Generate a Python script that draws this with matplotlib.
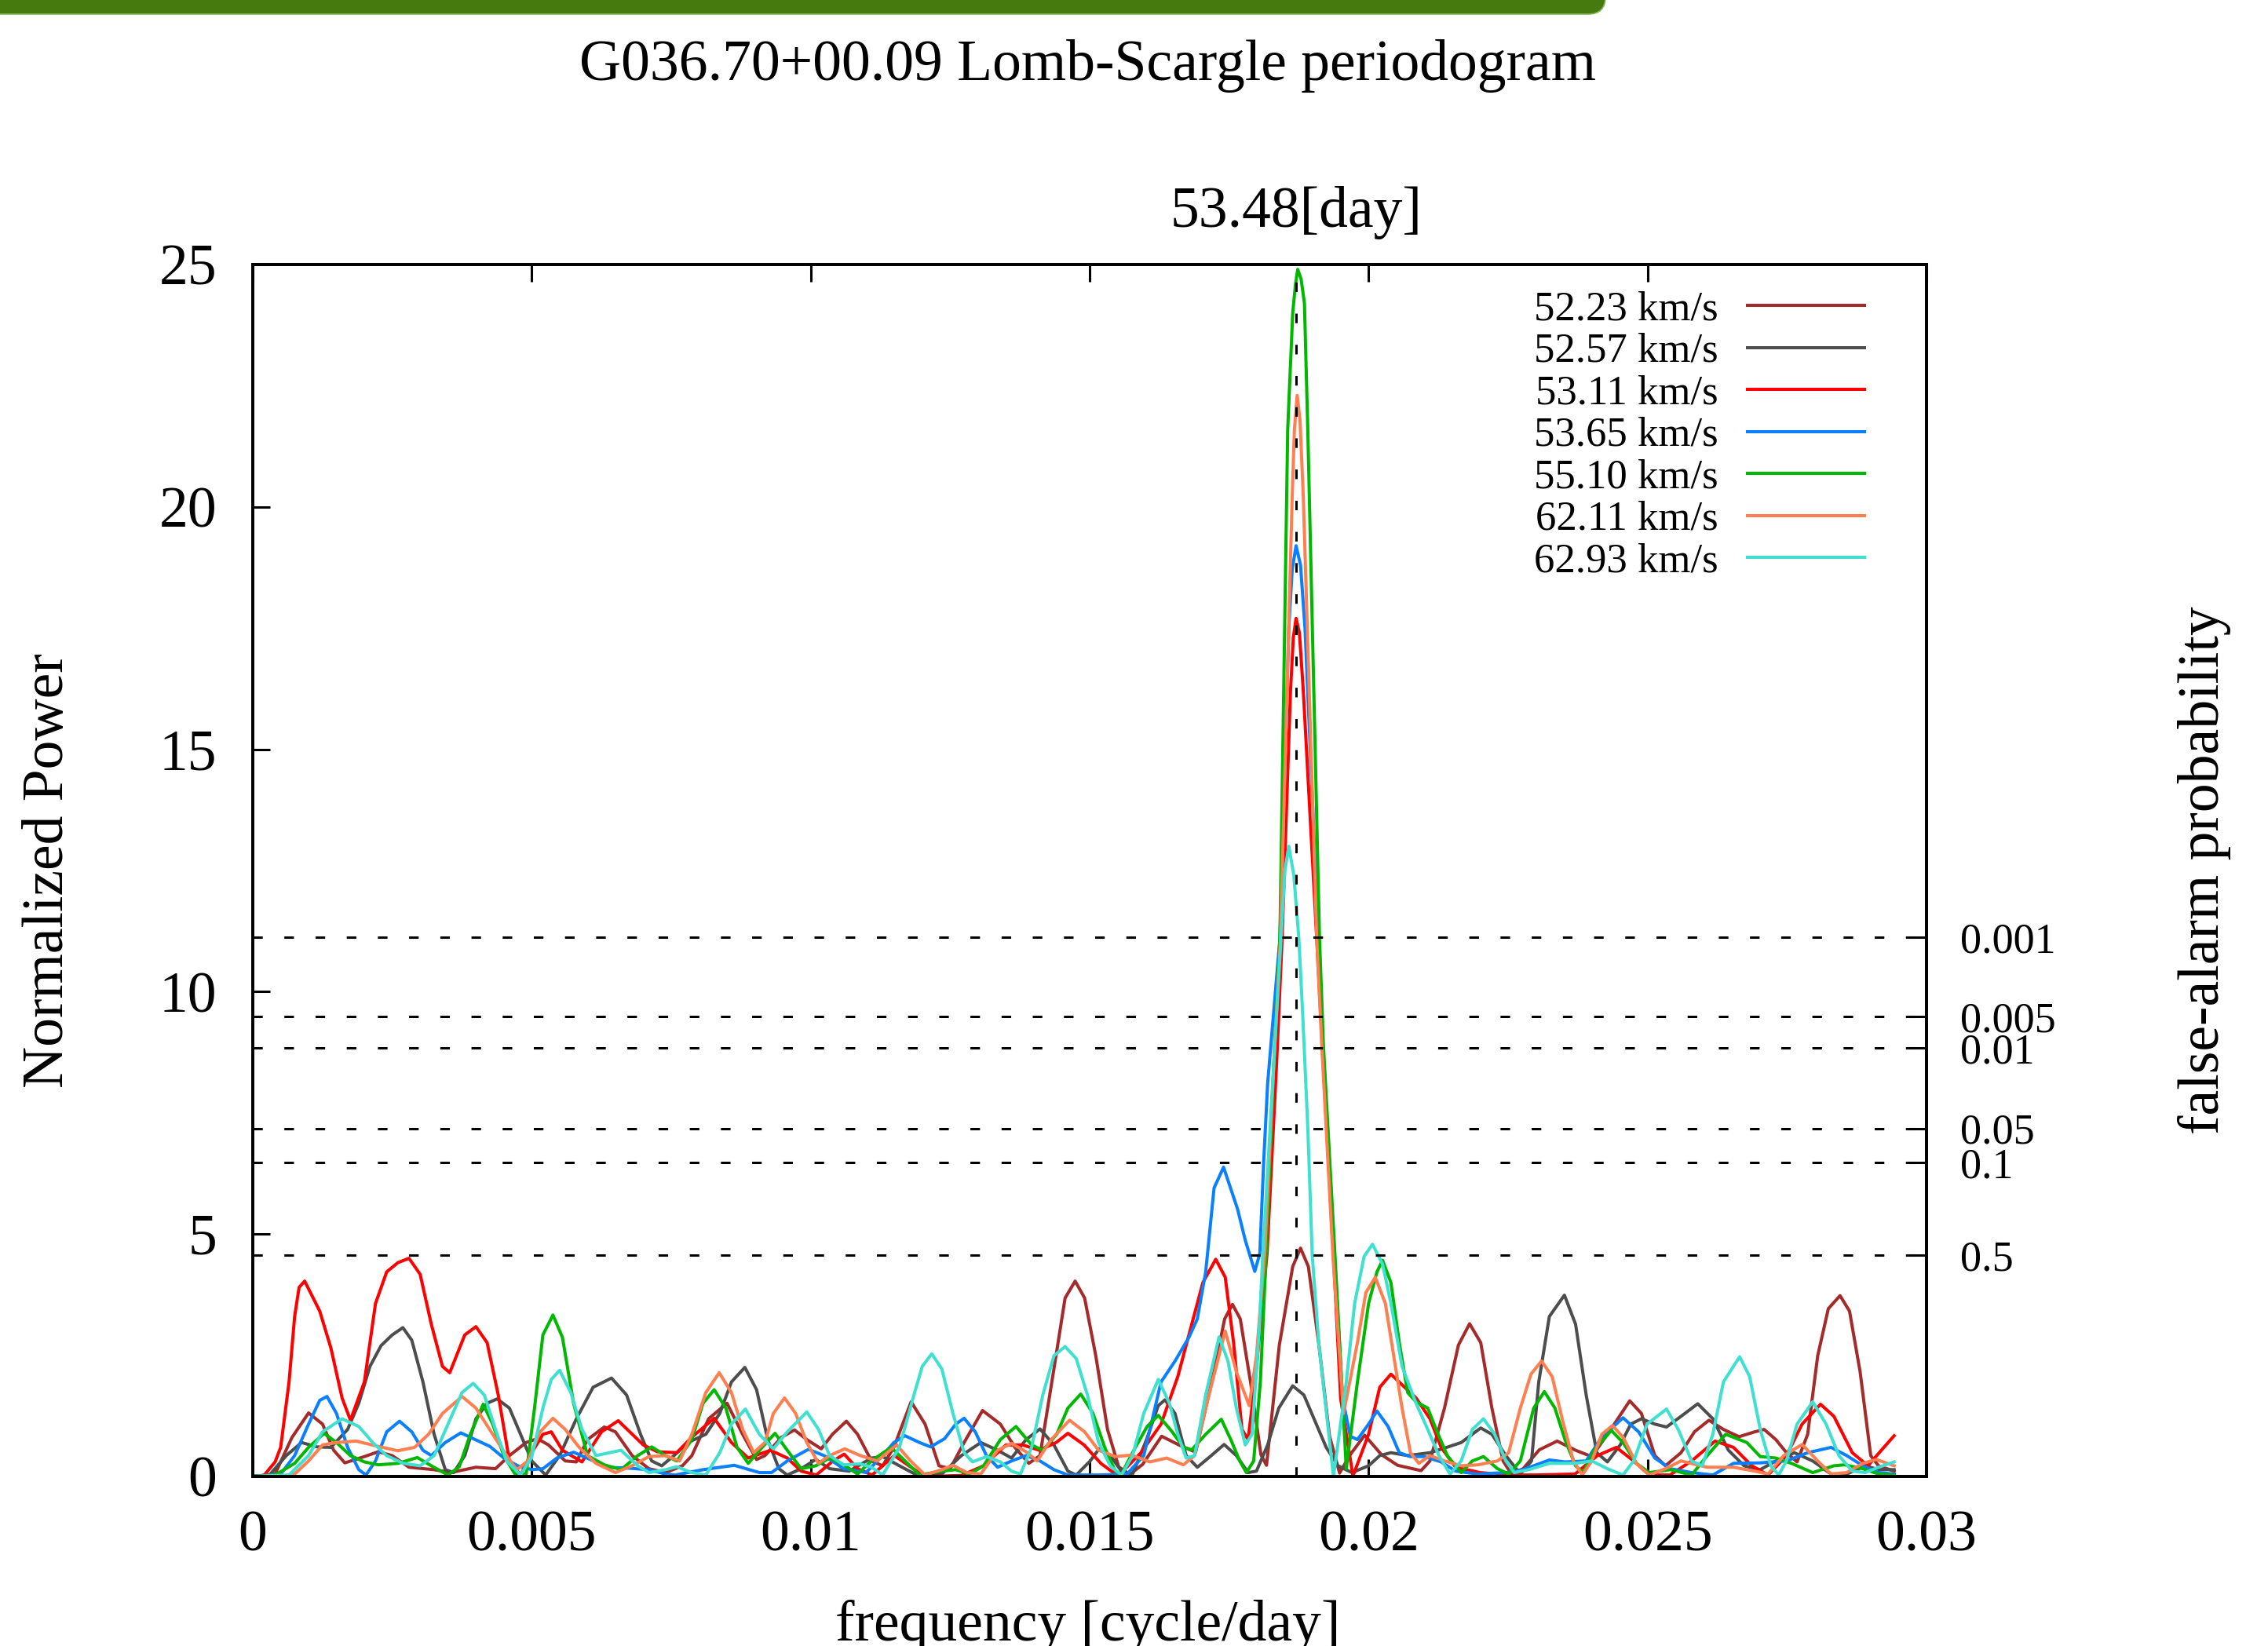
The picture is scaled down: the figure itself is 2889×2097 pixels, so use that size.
import matplotlib.pyplot as plt
from matplotlib.patches import FancyBboxPatch
from matplotlib.transforms import IdentityTransform, blended_transform_factory

plt.rcParams['font.family'] = ['Liberation Serif', 'DejaVu Serif']

# --- data --------------------------------------------------------------
labels = ['52.23 km/s', '52.57 km/s', '53.11 km/s', '53.65 km/s',
          '55.10 km/s', '62.11 km/s', '62.93 km/s']
colors = ['#a52a2a', '#4d4d4d', '#ff0000', '#0a80ff',
          '#00b800', '#ff7f50', '#40e0d0']

f_5223 = [0, 0.0004, 0.0007, 0.001, 0.00125, 0.00145, 0.00165, 0.002, 0.00225, 0.0025,
          0.0028, 0.00325, 0.00355, 0.004, 0.00435, 0.0046, 0.0049, 0.0051, 0.0053, 0.0056,
          0.0058, 0.006, 0.0063, 0.0065, 0.0068, 0.0071, 0.0074, 0.0077, 0.00787, 0.00817,
          0.0085, 0.00878, 0.00903, 0.00918, 0.00948, 0.00971, 0.00993, 0.01019, 0.01039, 0.01064,
          0.01084, 0.01109, 0.01129, 0.01149, 0.0118, 0.01205, 0.0123, 0.0125, 0.01275, 0.01308,
          0.0134, 0.01366, 0.01391, 0.01411, 0.01436, 0.01456, 0.01474, 0.01491, 0.01511, 0.01532,
          0.01552, 0.01572, 0.01595, 0.01629, 0.0166, 0.0169, 0.01723, 0.01742, 0.01756, 0.0177,
          0.01789, 0.01807, 0.01817, 0.0184, 0.01864, 0.01878, 0.01892, 0.01911, 0.0193, 0.01948,
          0.01967, 0.01993, 0.02023, 0.02052, 0.02094, 0.0211, 0.02136, 0.02161, 0.02181, 0.02201,
          0.02221, 0.02241, 0.02256, 0.02277, 0.02306, 0.02338, 0.02371, 0.024, 0.0243, 0.02468,
          0.02489, 0.02513, 0.02532, 0.0256, 0.02584, 0.0261, 0.02636, 0.02664, 0.02692, 0.02709,
          0.0273, 0.02749, 0.02768, 0.02787, 0.02805, 0.02824, 0.02845, 0.02862, 0.02881, 0.029,
          0.02914, 0.02942]
p_5223 = [0, 0.05, 0.8, 1.31, 1.08, 0.54, 0.28, 0.41, 0.51, 0.43,
          0.19, 0.14, 0.08, 0.19, 0.16, 0.43, 0.70, 0.78, 0.65, 0.32,
          0.30, 0.76, 1.02, 0.92, 0.43, 0.16, 0.08, 0.22, 0.43, 1.19,
          1.51, 0.87, 0.35, 0.43, 0.81, 0.96, 0.76, 0.57, 0.87, 1.14,
          0.87, 0.32, 0.22, 0.60, 1.54, 1.08, 0.22, 0.16, 0.70, 1.36,
          1.08, 0.60, 0.27, 0.43, 2.22, 3.68, 4.03, 3.68, 2.49, 0.97,
          0.20, 0.04, 0.25, 0.83, 0.65, 0.50, 2.17, 3.25, 3.55, 3.25,
          1.90, 0.45, 0.23, 2.71, 4.33, 4.71, 4.33, 2.71, 0.83, 0.07,
          0.45, 0.85, 0.45, 0.23, 0.12, 0.32, 1.41, 2.71, 3.15, 2.76,
          1.41, 0.32, 0.05, 0.16, 0.55, 0.73, 0.54, 0.41, 0.90, 1.56,
          1.30, 0.43, 0.22, 0.49, 0.92, 1.16, 0.97, 0.82, 0.92, 0.97,
          0.76, 0.49, 0.30, 0.87, 2.49, 3.46, 3.73, 3.41, 2.16, 0.43,
          0.22, 0.11]

f_5257 = [0, 0.0003, 0.0006, 0.000875, 0.00115, 0.0014, 0.0017, 0.0019, 0.0021, 0.0023,
          0.0025, 0.00269, 0.00285, 0.00305, 0.00325, 0.00345, 0.0036, 0.0038, 0.004, 0.0042,
          0.00438, 0.0046, 0.0048, 0.005, 0.00525, 0.0055, 0.0058, 0.0061, 0.00643, 0.0067,
          0.00695, 0.00715, 0.00733, 0.00755, 0.0078, 0.00812, 0.00837, 0.00858, 0.00882, 0.00903,
          0.00923, 0.00943, 0.00958, 0.00983, 0.01009, 0.01034, 0.01069, 0.01109, 0.01129, 0.01159,
          0.0119, 0.01235, 0.0127, 0.01305, 0.01335, 0.0136, 0.01386, 0.01411, 0.01436, 0.01461,
          0.01476, 0.01501, 0.01517, 0.01537, 0.01557, 0.01577, 0.01602, 0.01623, 0.01635, 0.01653,
          0.01673, 0.01693, 0.01718, 0.01741, 0.01763, 0.01784, 0.01799, 0.01819, 0.01839, 0.01864,
          0.01884, 0.01904, 0.01924, 0.01945, 0.0197, 0.02, 0.0202, 0.0204, 0.0207, 0.0211,
          0.0214, 0.02166, 0.02201, 0.02221, 0.02246, 0.02272, 0.02292, 0.02305, 0.02324, 0.02351,
          0.02371, 0.0239, 0.02409, 0.02428, 0.02451, 0.0247, 0.02489, 0.02513, 0.02534, 0.0256,
          0.0259, 0.02617, 0.02645, 0.02673, 0.02702, 0.0273, 0.02763, 0.02796, 0.02829, 0.02857,
          0.0289, 0.02914, 0.02942]
p_5257 = [0, 0.03, 0.43, 0.70, 0.61, 0.60, 0.97, 1.51, 2.27, 2.70,
          2.92, 3.07, 2.81, 1.95, 0.87, 0.14, 0.08, 0.43, 1.19, 1.51,
          1.60, 1.41, 0.87, 0.32, 0.03, 0.43, 1.19, 1.84, 2.03, 1.68,
          0.87, 0.32, 0.22, 0.43, 0.70, 0.87, 1.30, 1.95, 2.25, 1.79,
          0.76, 0.16, 0.03, 0.16, 0.35, 0.16, 0.11, 0.38, 0.41, 0.22,
          0.03, 0.05, 0.43, 0.70, 0.54, 0.38, 0.76, 0.98, 0.65, 0.11,
          0.03, 0.32, 0.57, 0.43, 0.11, 0.05, 0.76, 1.46, 1.58, 1.30,
          0.43, 0.19, 0.43, 0.66, 0.43, 0.08, 0.11, 0.65, 1.41, 1.87,
          1.68, 1.14, 0.60, 0.22, 0.08, 0.22, 0.43, 0.49, 0.43, 0.49,
          0.60, 0.70, 1.00, 0.87, 0.43, 0.05, 0.32, 1.95, 3.30, 3.74,
          3.14, 1.68, 0.49, 0.30, 0.65, 1.08, 1.19, 1.08, 1.02, 1.24,
          1.50, 1.19, 0.54, 0.22, 0.14, 0.32, 0.49, 0.32, 0.05, 0.05,
          0.22, 0.14, 0.14]

f_5311 = [0, 0.0002, 0.0004, 0.0005, 0.00065, 0.00075, 0.00083, 0.00093, 0.0012, 0.0014,
          0.0016, 0.00175, 0.002, 0.0022, 0.0024, 0.0026, 0.0028, 0.003, 0.0032, 0.0034,
          0.00353, 0.0038, 0.004, 0.0042, 0.0044, 0.0046, 0.0048, 0.005, 0.0052, 0.00535,
          0.00555, 0.0059, 0.00625, 0.00655, 0.007, 0.00725, 0.0076, 0.00787, 0.00827, 0.00858,
          0.00888, 0.00928, 0.00958, 0.00983, 0.0101, 0.0104, 0.0106, 0.01084, 0.0111, 0.0115,
          0.0119, 0.0121, 0.0127, 0.0131, 0.0135, 0.0138, 0.0141, 0.0144, 0.01461, 0.0149,
          0.0152, 0.01546, 0.01557, 0.01592, 0.01628, 0.01658, 0.01683, 0.01703, 0.01726, 0.01743,
          0.01758, 0.01773, 0.01784, 0.01797, 0.01818, 0.01835, 0.01845, 0.0186, 0.01865, 0.0187,
          0.01876, 0.01883, 0.01907, 0.01917, 0.01937, 0.0195, 0.01972, 0.02, 0.0202, 0.0204,
          0.0206, 0.02085, 0.0211, 0.0213, 0.02156, 0.022, 0.0225, 0.023, 0.0237, 0.0241,
          0.02444, 0.02475, 0.02503, 0.0254, 0.02579, 0.02621, 0.02654, 0.02687, 0.02716, 0.02749,
          0.02777, 0.0281, 0.02834, 0.02867, 0.02895, 0.02919, 0.02942]
p_5311 = [0, 0.02, 0.3, 0.6, 1.95, 3.3, 3.9, 4.03, 3.41, 2.65,
          1.62, 1.16, 1.95, 3.57, 4.22, 4.41, 4.50, 4.17, 3.14, 2.27,
          2.14, 2.92, 3.09, 2.76, 1.68, 0.32, 0.03, 0.49, 0.87, 0.92,
          0.54, 0.30, 0.92, 1.15, 0.65, 0.51, 0.49, 0.81, 1.20, 0.70,
          0.38, 0.54, 0.38, 0.11, 0.03, 0.32, 0.46, 0.16, 0.03, 0.43,
          0.11, 0.0, 0.02, 0.22, 0.65, 0.65, 0.54, 0.70, 0.89, 0.65,
          0.27, 0.05, 0.08, 0.49, 1.08, 2.06, 3.14, 4.0, 4.48, 4.11,
          2.76, 0.97, 0.76, 2.0, 4.6, 8.5, 11.1, 16.2, 17.3, 17.7,
          17.4, 16.2, 11.1, 8.9, 4.56, 1.6, 0.01, 0.87, 1.84, 2.11,
          1.89, 1.62, 1.19, 0.60, 0.19, 0.08, 0.03, 0.03, 0.05, 0.43,
          0.60, 0.32, 0.03, 0.03, 0.32, 0.73, 0.60, 0.22, 0.03, 0.43,
          1.08, 1.49, 1.24, 0.49, 0.22, 0.54, 0.84]

f_5365 = [0, 0.0005, 0.00075, 0.001, 0.0012, 0.00133, 0.0015, 0.0017, 0.0019, 0.00203,
          0.0022, 0.0024, 0.00263, 0.00285, 0.00305, 0.0032, 0.00345, 0.00373, 0.00395, 0.00425,
          0.0045, 0.00475, 0.005, 0.0052, 0.00545, 0.00575, 0.00605, 0.00635, 0.00675, 0.0071,
          0.0074, 0.00757, 0.00807, 0.00863, 0.00908, 0.0093, 0.00958, 0.00996, 0.01024, 0.01059,
          0.01099, 0.01129, 0.01149, 0.01169, 0.01195, 0.01215, 0.0124, 0.0126, 0.01275, 0.01295,
          0.01315, 0.01335, 0.0136, 0.01386, 0.01411, 0.01436, 0.01461, 0.01517, 0.01567, 0.01597,
          0.01628, 0.01653, 0.01678, 0.01693, 0.01708, 0.01723, 0.0174, 0.01765, 0.01779, 0.01796,
          0.01805, 0.01812, 0.01819, 0.01841, 0.01857, 0.01863, 0.0187, 0.01878, 0.01886, 0.0191,
          0.01918, 0.01939, 0.01953, 0.01967, 0.0198, 0.02, 0.02015, 0.02035, 0.02055, 0.02075,
          0.021, 0.0213, 0.02156, 0.02196, 0.02246, 0.02277, 0.02324, 0.02352, 0.0239, 0.02418,
          0.02456, 0.02484, 0.02513, 0.02541, 0.02579, 0.02617, 0.02654, 0.02701, 0.02749, 0.02787,
          0.02829, 0.02857, 0.02886, 0.02914, 0.02942]
p_5365 = [0, 0.05, 0.43, 1.08, 1.57, 1.65, 1.30, 0.60, 0.14, 0.03,
          0.32, 0.92, 1.14, 0.92, 0.54, 0.43, 0.70, 0.90, 0.78, 0.62,
          0.38, 0.22, 0.14, 0.16, 0.38, 0.50, 0.35, 0.19, 0.17, 0.14,
          0.05, 0.03, 0.14, 0.23, 0.08, 0.08, 0.32, 0.56, 0.43, 0.16,
          0.08, 0.43, 0.70, 0.84, 0.70, 0.61, 0.78, 1.08, 1.20, 0.92,
          0.43, 0.19, 0.32, 0.43, 0.32, 0.14, 0.03, 0.03, 0.05, 0.43,
          1.95, 2.38, 2.87, 3.25, 4.22, 5.95, 6.38, 5.52, 4.87, 4.23,
          4.6, 6.5, 8.1, 11.1, 17.5, 18.7, 19.2, 18.8, 17.5, 11.1,
          8.9, 4.56, 1.64, 0.83, 0.76, 1.08, 1.35, 1.03, 0.49, 0.41,
          0.41, 0.30, 0.11, 0.05, 0.08, 0.14, 0.34, 0.30, 0.32, 0.81,
          1.21, 0.92, 0.38, 0.16, 0.08, 0.03, 0.27, 0.28, 0.32, 0.49,
          0.60, 0.43, 0.22, 0.08, 0.05]

f_5510 = [0, 0.0004, 0.00075, 0.001, 0.00128, 0.0015, 0.00175, 0.002, 0.00225, 0.0026,
          0.00295, 0.0032, 0.0035, 0.0037, 0.0039, 0.00413, 0.0043, 0.0045, 0.0047, 0.0049,
          0.00505, 0.0052, 0.00538, 0.00555, 0.00575, 0.006, 0.0063, 0.0066, 0.0069, 0.00715,
          0.0074, 0.0076, 0.00787, 0.00807, 0.00827, 0.00848, 0.00868, 0.00888, 0.00913, 0.00936,
          0.00958, 0.00983, 0.01009, 0.01034, 0.01059, 0.01084, 0.01109, 0.01144, 0.01169, 0.01195,
          0.01235, 0.0126, 0.01285, 0.0131, 0.0134, 0.01368, 0.01396, 0.01416, 0.01441, 0.01461,
          0.01484, 0.01506, 0.01527, 0.01546, 0.01557, 0.01582, 0.01603, 0.01623, 0.01648, 0.01668,
          0.01683, 0.01708, 0.01736, 0.01753, 0.01769, 0.01781, 0.01794, 0.01806, 0.01816, 0.0183,
          0.01841, 0.01855, 0.01864, 0.01869, 0.01873, 0.01879, 0.01885, 0.01891, 0.01912, 0.01919,
          0.0194, 0.0196, 0.0198, 0.02, 0.02015, 0.02025, 0.0204, 0.02055, 0.0207, 0.02085,
          0.02106, 0.02121, 0.02141, 0.02166, 0.02186, 0.02206, 0.02231, 0.02251, 0.02272, 0.02296,
          0.02315, 0.02334, 0.02352, 0.02371, 0.02385, 0.02404, 0.02435, 0.02456, 0.0248, 0.02503,
          0.02541, 0.02579, 0.02607, 0.0264, 0.02678, 0.02702, 0.0273, 0.02758, 0.02796, 0.02834,
          0.02853, 0.02886, 0.02914, 0.02942]
p_5510 = [0, 0.03, 0.27, 0.60, 0.89, 0.70, 0.43, 0.30, 0.24, 0.27,
          0.39, 0.22, 0.03, 0.20, 0.87, 1.49, 1.08, 0.43, 0.05, 0.05,
          1.41, 2.92, 3.33, 2.87, 1.51, 0.43, 0.24, 0.14, 0.43, 0.61,
          0.43, 0.32, 0.76, 1.51, 1.79, 1.41, 0.60, 0.27, 0.60, 0.89,
          0.54, 0.16, 0.22, 0.38, 0.24, 0.05, 0.32, 0.60, 0.32, 0.03,
          0.11, 0.14, 0.05, 0.22, 0.76, 1.03, 0.65, 0.54, 0.87, 1.41,
          1.70, 1.30, 0.60, 0.11, 0.05, 0.60, 1.03, 1.26, 0.92, 0.60,
          0.55, 0.87, 1.18, 0.76, 0.32, 0.08, 0.32, 1.95, 4.5, 8.5,
          11.1, 21.6, 24.0, 24.6, 24.9, 24.7, 24.2, 21.6, 11.1, 8.9,
          4.5, 0.16, 1.95, 3.57, 4.22, 4.46, 4.0, 2.76, 1.73, 1.54,
          1.41, 0.97, 0.43, 0.08, 0.32, 0.41, 0.16, 0.05, 0.32, 1.41,
          1.75, 1.41, 0.76, 0.22, 0.08, 0.54, 0.95, 0.70, 0.27, 0.08,
          0.14, 0.03, 0.43, 0.87, 0.70, 0.41, 0.38, 0.27, 0.08, 0.22,
          0.24, 0.16, 0.05, 0.03]

f_6211 = [0, 0.0005, 0.00075, 0.001, 0.00125, 0.0015, 0.00185, 0.00225, 0.0026, 0.0029,
          0.00315, 0.0034, 0.00375, 0.004, 0.0043, 0.00455, 0.00473, 0.00493, 0.00515, 0.00538,
          0.0056, 0.00585, 0.00615, 0.0065, 0.0068, 0.0071, 0.0074, 0.00765, 0.00787, 0.00812,
          0.00836, 0.00858, 0.00878, 0.00898, 0.00918, 0.00933, 0.00953, 0.00973, 0.00993, 0.01014,
          0.01034, 0.01061, 0.01089, 0.01119, 0.01154, 0.01179, 0.01205, 0.01235, 0.01255, 0.0128,
          0.01305, 0.01335, 0.0136, 0.01386, 0.01406, 0.01431, 0.01464, 0.01491, 0.01516, 0.01546,
          0.01575, 0.01608, 0.01638, 0.01668, 0.01688, 0.01708, 0.01743, 0.01763, 0.01786, 0.01799,
          0.01814, 0.0183, 0.01842, 0.01863, 0.01867, 0.01872, 0.01877, 0.01883, 0.01907, 0.01916,
          0.01936, 0.01955, 0.0198, 0.01995, 0.02012, 0.0203, 0.02045, 0.0206, 0.02075, 0.0209,
          0.0211, 0.02136, 0.02166, 0.02196, 0.02231, 0.02251, 0.02272, 0.02291, 0.0231, 0.02329,
          0.02348, 0.02367, 0.02383, 0.024, 0.02418, 0.02437, 0.02456, 0.0248, 0.02503, 0.02532,
          0.0256, 0.02607, 0.02654, 0.02692, 0.02716, 0.02744, 0.02777, 0.02805, 0.02829, 0.02857,
          0.02886, 0.0291, 0.02942]
p_6211 = [0, 0.0, 0.05, 0.32, 0.65, 0.70, 0.73, 0.62, 0.53, 0.60,
          0.87, 1.30, 1.65, 1.41, 0.87, 0.43, 0.14, 0.32, 0.92, 1.20,
          0.97, 0.60, 0.27, 0.08, 0.22, 0.41, 0.43, 0.32, 0.87, 1.73,
          2.14, 1.73, 0.97, 0.49, 0.70, 1.30, 1.62, 1.30, 0.70, 0.27,
          0.43, 0.57, 0.43, 0.32, 0.65, 0.32, 0.03, 0.14, 0.23, 0.08,
          0.05, 0.54, 0.68, 0.51, 0.32, 0.76, 1.16, 0.92, 0.54, 0.41,
          0.44, 0.30, 0.38, 0.24, 0.43, 1.41, 3.0, 2.16, 1.46, 2.49,
          4.65, 8.5, 11.1, 20.2, 21.6, 22.3, 21.8, 20.2, 11.1, 8.9,
          4.56, 1.30, 2.76, 3.79, 4.11, 3.57, 2.49, 1.41, 0.49, 0.27,
          0.43, 0.32, 0.22, 0.24, 0.32, 0.49, 1.41, 2.11, 2.38, 2.06,
          1.14, 0.32, 0.03, 0.32, 0.87, 1.05, 0.81, 0.27, 0.03, 0.16,
          0.32, 0.19, 0.19, 0.11, 0.05, 0.43, 0.66, 0.32, 0.05, 0.08,
          0.27, 0.35, 0.22]

f_6293 = [0, 0.00065, 0.001, 0.00125, 0.0016, 0.0019, 0.00215, 0.0024, 0.0027, 0.003,
          0.00325, 0.0035, 0.00375, 0.00395, 0.00415, 0.00435, 0.00455, 0.0048, 0.005, 0.0052,
          0.00535, 0.0055, 0.0057, 0.0059, 0.00615, 0.0066, 0.0069, 0.0071, 0.0074, 0.0076,
          0.00787, 0.00812, 0.00837, 0.00858, 0.00883, 0.00908, 0.00933, 0.00958, 0.00993, 0.01014,
          0.01034, 0.01059, 0.01089, 0.01109, 0.01129, 0.01159, 0.01185, 0.012, 0.01217, 0.01235,
          0.01255, 0.01275, 0.0129, 0.01315, 0.0134, 0.0136, 0.01376, 0.01396, 0.01416, 0.01436,
          0.01456, 0.01476, 0.01496, 0.01516, 0.01537, 0.01557, 0.01577, 0.01597, 0.01623, 0.01643,
          0.01658, 0.01673, 0.01688, 0.01708, 0.01732, 0.01748, 0.01763, 0.01779, 0.01791, 0.01804,
          0.0181, 0.0183, 0.01843, 0.0185, 0.01857, 0.01866, 0.01875, 0.01882, 0.01891, 0.01899,
          0.01911, 0.01937, 0.0196, 0.01975, 0.01992, 0.02007, 0.02025, 0.0204, 0.0206, 0.02085,
          0.02106, 0.02126, 0.02146, 0.02166, 0.02186, 0.02206, 0.02226, 0.02246, 0.02261, 0.02287,
          0.02324, 0.02371, 0.024, 0.02428, 0.02456, 0.02475, 0.02499, 0.02534, 0.02555, 0.02579,
          0.02598, 0.02617, 0.02636, 0.02665, 0.02683, 0.02702, 0.02721, 0.02735, 0.02749, 0.02768,
          0.02796, 0.0282, 0.02843, 0.02867, 0.0289, 0.02914, 0.02942]
p_6293 = [0, 0.03, 0.43, 0.92, 1.19, 1.03, 0.70, 0.43, 0.27, 0.22,
          0.43, 1.08, 1.73, 1.92, 1.68, 0.97, 0.32, 0.03, 0.40, 1.41,
          2.00, 2.19, 1.73, 0.97, 0.43, 0.54, 0.22, 0.08, 0.14, 0.20,
          0.08, 0.03, 0.49, 1.08, 1.39, 0.87, 0.57, 0.92, 1.33, 0.97,
          0.43, 0.24, 0.26, 0.19, 0.03, 0.60, 1.68, 2.27, 2.53, 2.22,
          1.30, 0.49, 0.30, 0.41, 0.30, 0.11, 0.05, 0.60, 1.68, 2.49,
          2.68, 2.43, 1.68, 0.70, 0.22, 0.03, 0.43, 1.30, 2.00, 1.51,
          0.87, 0.38, 0.43, 1.68, 2.88, 2.38, 1.41, 0.65, 0.87, 3.03,
          4.5, 8.5, 11.1, 12.5, 13.0, 12.4, 11.1, 9.5, 7.2, 4.56,
          2.71, 0.0, 1.95, 3.57, 4.54, 4.79, 4.38, 3.57, 2.27, 1.51,
          0.97, 0.43, 0.05, 0.32, 0.97, 1.19, 0.87, 0.32, 0.08, 0.14,
          0.27, 0.27, 0.32, 0.16, 0.03, 0.32, 1.08, 1.39, 0.97, 0.32,
          0.22, 0.87, 1.95, 2.47, 2.06, 0.97, 0.22, 0.03, 0.32, 1.08,
          1.54, 1.08, 0.43, 0.11, 0.08, 0.19, 0.30]

freqs = [f_5223, f_5257, f_5311, f_5365, f_5510, f_6211, f_6293]
powers = [p_5223, p_5257, p_5311, p_5365, p_5510, p_6211, p_6293]

fap_levels = [11.12, 9.49, 8.84, 7.18, 6.48, 4.56]
fap_labels = ['0.001', '0.005', '0.01', '0.05', '0.1', '0.5']
peak_period = 53.48
xticks = [0, 0.005, 0.01, 0.015, 0.02, 0.025, 0.03]
xtick_labels = ['0', '0.005', '0.01', '0.015', '0.02', '0.025', '0.03']
yticks = [0, 5, 10, 15, 20, 25]

# --- figure --------------------------------------------------------------
W, H = 2889, 2097
fig = plt.figure(figsize=(W / 100, H / 100), dpi=100)
ax = fig.add_axes([322 / W, 1 - 1881 / H, (2454 - 322) / W, (1881 - 337) / H])

for f, p, c in zip(freqs, powers, colors):
    ax.plot(f, p, color=c, lw=2.9, solid_joinstyle='round', zorder=2)

for lev in fap_levels:
    ax.axhline(lev, color='black', lw=2.2, dashes=(4, 9), zorder=3)
ax.axvline(1 / peak_period, color='black', lw=2.2, dashes=(4, 9), zorder=3)

ax.set_xlim(0, 0.03)
ax.set_ylim(0, 25)
ax.set_xticks(xticks)
ax.set_xticklabels(xtick_labels)
ax.set_yticks(yticks)
ax.tick_params(direction='in', length=16, width=2.2, top=True, right=True,
               labelsize=53)
ax.tick_params(axis='x', pad=31)
ax.tick_params(axis='y', pad=33)
for s in ax.spines.values():
    s.set_linewidth(2.7)

ax2 = ax.twinx()
ax2.set_ylim(0, 25)
ax2.set_yticks(fap_levels)
ax2.set_yticklabels(fap_labels)
ax2.tick_params(direction='in', length=16, width=2.2, labelsize=39, pad=31)
for s in ax2.spines.values():
    s.set_linewidth(2.7)

# period label above the peak
trans = blended_transform_factory(ax.transData, ax.transAxes)
ax.text(1 / peak_period, 1.031, '%.2f[day]' % peak_period, transform=trans,
        ha='center', va='baseline', fontsize=53)

# legend, text on the left and sample line on the right
for i, (lab, c) in enumerate(zip(labels, colors)):
    y = 0.9663 - i * 0.03465
    ax.text(0.8757, y - 0.0117, lab, transform=ax.transAxes, ha='right',
            va='baseline', fontsize=38)
    ax.plot([0.8921, 0.9639], [y, y], transform=ax.transAxes, color=c,
            lw=2.9, solid_capstyle='butt', clip_on=False)

fig.text(1386 / W, 1 - 102 / H, 'G036.70+00.09 Lomb-Scargle periodogram',
         ha='center', va='baseline', fontsize=53)
fig.text(62 / W, 1 - 1109 / H, 'Normalized Power', rotation=90,
         ha='center', va='center', fontsize=53)
fig.text(2808 / W, 1 - 1109 / H, 'false-alarm probability', rotation=90,
         ha='center', va='center', fontsize=53)
fig.text(1386 / W, 1 - 2090 / H, 'frequency [cycle/day]',
         ha='center', va='baseline', fontsize=53)

# green banner cut at the top edge
bar = FancyBboxPatch((-60, H - 18), 2045 + 60, 80,
                     boxstyle='round,pad=0,rounding_size=22',
                     transform=IdentityTransform(), facecolor='#467a0f',
                     edgecolor='#86b45a', lw=1.2)
fig.patches.append(bar)

fig.savefig('out.png', dpi=100)
